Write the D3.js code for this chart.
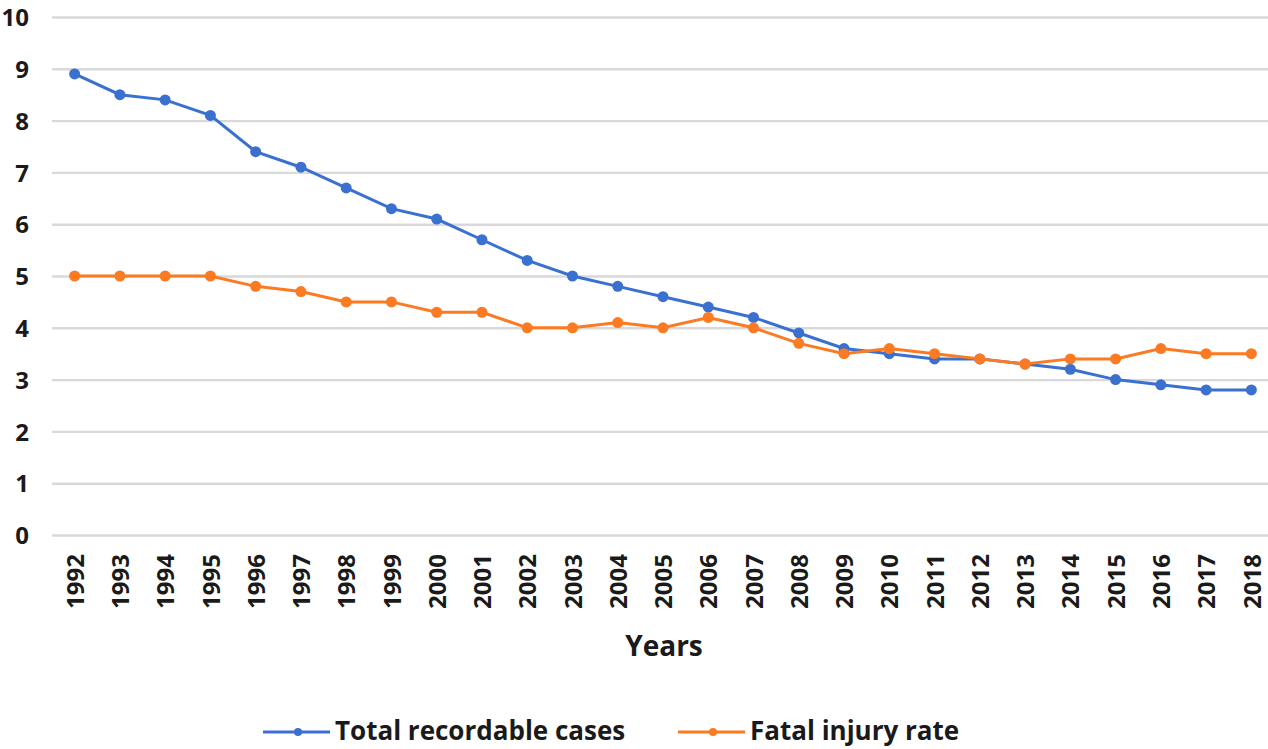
<!DOCTYPE html>
<html><head><meta charset="utf-8">
<script src="https://cdn.jsdelivr.net/npm/d3@7"></script>
<style>
html,body{margin:0;padding:0;background:#fff;overflow:hidden}
svg text{font-family:"Open Sans",sans-serif;font-weight:700;fill:#1a1a1a}
</style></head><body>
<svg id="c" width="1268" height="749"></svg>
<script>
const years = ["1992","1993","1994","1995","1996","1997","1998","1999","2000","2001","2002","2003","2004","2005","2006","2007","2008","2009","2010","2011","2012","2013","2014","2015","2016","2017","2018"];
const totalRecordable = [8.9,8.5,8.4,8.1,7.4,7.1,6.7,6.3,6.1,5.7,5.3,5.0,4.8,4.6,4.4,4.2,3.9,3.6,3.5,3.4,3.4,3.3,3.2,3.0,2.9,2.8,2.8];
const fatalInjury = [5.0,5.0,5.0,5.0,4.8,4.7,4.5,4.5,4.3,4.3,4.0,4.0,4.1,4.0,4.2,4.0,3.7,3.5,3.6,3.5,3.4,3.3,3.4,3.4,3.6,3.5,3.5];
const yTicks = [0,1,2,3,4,5,6,7,8,9,10];
const seriesNames = ["Total recordable cases","Fatal injury rate"];
const colors = ["#3a70d0","#fb7a22"];

(function(){
const svg = d3.select("#c");
const mLeft = 52, mRight = 1274, mTop = 17, mBottom = 535;
const x = d3.scalePoint().domain(years).range([mLeft, mRight]).padding(0.5);
const y = d3.scaleLinear().domain([0,10]).range([mBottom, mTop]);

const yAxis = d3.axisLeft(y).tickValues(yTicks).tickSize(-(1268-mLeft)).tickPadding(23).tickFormat(d3.format("d"));
const gy = svg.append("g").attr("transform",`translate(${mLeft},0)`).call(yAxis);
gy.select(".domain").remove();
gy.selectAll(".tick line").attr("stroke","#d9d9d9").attr("stroke-width",2.4);
gy.selectAll(".tick text").attr("font-size",24).attr("x",-23).attr("dy","0.36em");

const xAxis = d3.axisBottom(x).tickSize(0).tickPadding(0);
const gx = svg.append("g").attr("transform",`translate(0,${mBottom})`).call(xAxis);
gx.select(".domain").remove();
gx.selectAll(".tick text")
  .attr("font-size",24)
  .attr("transform","rotate(-90)")
  .attr("text-anchor","end")
  .attr("x",-19).attr("y",0).attr("dy","0.36em");

svg.append("text").attr("x",664).attr("y",656).attr("text-anchor","middle").attr("font-size",28).text("Years");

const data = [totalRecordable, fatalInjury];
const line = d3.line().x((d,i)=>x(years[i])).y(d=>y(d));
data.forEach((vals,k)=>{
  svg.append("path").datum(vals).attr("d",line).attr("fill","none").attr("stroke",colors[k]).attr("stroke-width",3);
  svg.append("g").selectAll("circle").data(vals).join("circle")
    .attr("cx",(d,i)=>x(years[i])).attr("cy",d=>y(d)).attr("r",5.5).attr("fill",colors[k]);
});

const legendX = [263, 678];
seriesNames.forEach((n,k)=>{
  const g = svg.append("g").attr("transform",`translate(${legendX[k]},732)`);
  g.append("line").attr("x1",0).attr("x2",67).attr("y1",0).attr("y2",0).attr("stroke",colors[k]).attr("stroke-width",3);
  g.append("circle").attr("cx",35).attr("cy",0).attr("r",4).attr("fill",colors[k]);
  g.append("text").attr("x",72).attr("y",8).attr("font-size",26).text(n);
});
})();
</script></body></html>
